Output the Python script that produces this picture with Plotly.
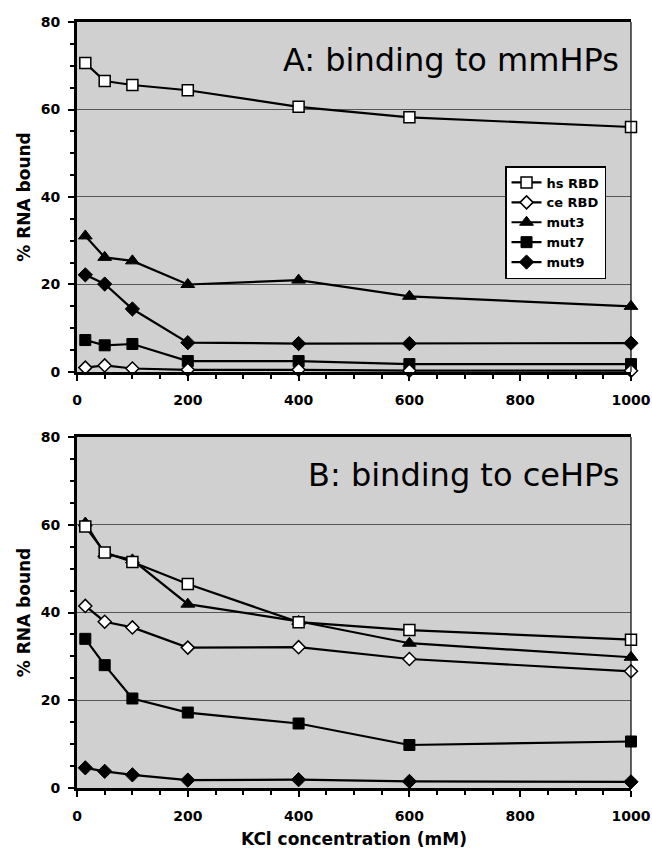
import plotly.graph_objects as go
from plotly.subplots import make_subplots

kcl = [15, 50, 100, 200, 400, 600, 1000]
series_names = ["hs RBD", "ce RBD", "mut3", "mut7", "mut9"]

# Panel A: binding to mmHPs
a_hs = [70.6, 66.5, 65.6, 64.4, 60.6, 58.2, 56.0]
a_ce = [1.0, 1.5, 0.8, 0.5, 0.5, 0.3, 0.3]
a_mut3 = [31.1, 26.2, 25.4, 20.0, 21.0, 17.3, 15.0]
a_mut7 = [7.3, 6.1, 6.4, 2.5, 2.5, 1.8, 1.8]
a_mut9 = [22.2, 20.1, 14.4, 6.7, 6.5, 6.5, 6.6]

# Panel B: binding to ceHPs
b_hs = [59.6, 53.7, 51.5, 46.5, 37.8, 36.0, 33.8]
b_ce = [41.5, 37.9, 36.6, 32.0, 32.1, 29.4, 26.6]
b_mut3 = [60.4, 53.4, 52.0, 41.9, 38.0, 33.0, 29.8]
b_mut7 = [34.0, 28.0, 20.4, 17.2, 14.7, 9.8, 10.6]
b_mut9 = [4.6, 3.8, 3.0, 1.8, 1.9, 1.5, 1.4]

panel_titles = ["A: binding to mmHPs", "B: binding to ceHPs"]
x_title = "KCl concentration (mM)"
y_title = "% RNA bound"

FONT = "DejaVu Sans, Liberation Sans, Arial"

styles = {
    "hs RBD": dict(symbol="square", size=11, color="white", line=dict(color="black", width=1.5)),
    "ce RBD": dict(symbol="diamond", size=10, color="white", line=dict(color="black", width=1.5)),
    "mut3": dict(symbol="triangle-up", size=12, color="black", line=dict(color="black", width=1)),
    "mut7": dict(symbol="square", size=11, color="black", line=dict(color="black", width=1)),
    "mut9": dict(symbol="diamond", size=11, color="black", line=dict(color="black", width=1)),
}
draw_order = ["mut9", "mut7", "ce RBD", "mut3", "hs RBD"]

fig = make_subplots(rows=2, cols=1, vertical_spacing=0.0849)
fig.update_yaxes(domain=[0.5431, 1.0], row=1, col=1)
fig.update_yaxes(domain=[0.0, 0.4582], row=2, col=1)

panels = [
    dict(zip(series_names, [a_hs, a_ce, a_mut3, a_mut7, a_mut9])),
    dict(zip(series_names, [b_hs, b_ce, b_mut3, b_mut7, b_mut9])),
]

for i, data in enumerate(panels):
    for name in draw_order:
        fig.add_trace(go.Scatter(
            x=kcl, y=data[name], name=name, mode="lines+markers",
            line=dict(color="black", width=2.2),
            marker=styles[name],
            showlegend=(i == 0),
            legendrank=series_names.index(name) + 1,
            cliponaxis=False,
        ), row=i + 1, col=1)

tickfont = dict(family=FONT, size=14, color="black", weight="bold")
for r in (1, 2):
    fig.update_xaxes(
        range=[0, 1000], tick0=0, dtick=200, showgrid=False, zeroline=False,
        showline=True, linecolor="black", linewidth=3, mirror=True,
        ticks="outside", ticklen=6, tickwidth=2, tickcolor="black",
        minor=dict(ticks="outside", dtick=50, ticklen=4, tickwidth=1.5, tickcolor="black"),
        tickfont=tickfont, ticklabelstandoff=7, automargin=False, row=r, col=1)
    fig.update_yaxes(
        range=[0, 80], tick0=0, dtick=20, showgrid=True, gridcolor="#555555", gridwidth=1,
        zeroline=False, showline=True, linecolor="black", linewidth=3, mirror=False,
        ticks="outside", ticklen=6, tickwidth=2, tickcolor="black",
        minor=dict(ticks="outside", dtick=5, ticklen=4, tickwidth=1.5, tickcolor="black", showgrid=False),
        tickfont=tickfont, ticklabelstandoff=5, automargin=False,
        title=dict(text=y_title, font=dict(family=FONT, size=17, color="black", weight="bold"), standoff=6),
        row=r, col=1)

fig.update_xaxes(title=dict(text=x_title, font=dict(family=FONT, size=17, color="black", weight="bold"), standoff=11), row=2, col=1)

# thin right borders
for xr, yr in (("x", "y"), ("x2", "y2")):
    fig.add_shape(type="line", xref=xr + " domain", yref=yr + " domain", x0=1, x1=1, y0=0, y1=1,
                  line=dict(color="black", width=1.2))

# panel titles
for xr, yr, txt in (("x", "y", panel_titles[0]), ("x2", "y2", panel_titles[1])):
    fig.add_annotation(text=txt, xref=xr + " domain", yref=yr + " domain", x=0.982, y=0.891,
                       xanchor="right", yanchor="middle", showarrow=False,
                       font=dict(family=FONT, size=32, color="black"))

fig.update_layout(
    width=652, height=852,
    margin=dict(l=77, r=21, t=22, b=64, autoexpand=False),
    paper_bgcolor="white", plot_bgcolor="#d0d0d0",
    legend=dict(x=0.7726, y=0.812, xanchor="left", yanchor="top", xref="paper", yref="paper",
                bgcolor="white", bordercolor="black", borderwidth=1.5,
                font=dict(family=FONT, size=13, color="black", weight="bold"),
                itemwidth=30, tracegroupgap=0),
    font=dict(family=FONT, color="black"),
)

fig.write_html("out.html")
